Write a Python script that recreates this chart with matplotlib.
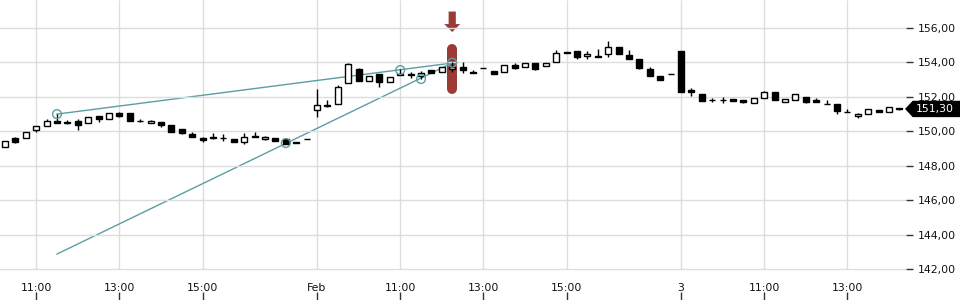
import numpy as np
import matplotlib
matplotlib.use("Agg")
import matplotlib.pyplot as plt
from matplotlib.patches import Polygon

# 15-minute candles, three sessions (9:00-17:30 = 35 slots per day)
first_slot = 5
opens = [149.07, 149.60, 149.59, 150.06, 150.29, 150.58, 150.57, 150.60, 150.47, 150.89,
         150.72, 151.06, 151.05, 150.60, 150.47, 150.52, 150.37, 150.12, 149.83, 149.61,
         149.68, 149.60, 149.53, 149.38, 149.73, 149.53, 149.59, 149.53, 149.40, 149.53,
         151.24, 151.55, 151.59, 152.79, 153.60, 152.90, 153.31, 152.85, 153.33, 153.33,
         153.21, 153.56, 153.43, 153.60, 153.74, 153.45, 153.66, 153.52, 153.45, 153.87,
         153.72, 153.95, 153.79, 154.03, 154.63, 154.68, 154.38, 154.38, 154.49, 154.88,
         154.45, 154.18, 153.62, 153.19, 153.35,
         154.67, 152.38, 152.17, 151.80, 151.82, 151.86, 151.82, 151.67, 151.92, 152.28,
         151.70, 151.82, 151.98, 151.82, 151.57, 151.57, 151.11, 150.89, 151.01, 151.24,
         151.12, 151.33]
highs = [149.45, 149.69, 149.98, 150.29, 150.70, 151.00, 150.65, 150.70, 150.81, 150.89,
         151.08, 151.12, 151.05, 150.73, 150.66, 150.52, 150.37, 150.12, 149.95, 149.67,
         149.88, 149.85, 149.53, 149.88, 149.94, 149.73, 149.59, 149.53, 149.40, 149.53,
         152.44, 151.82, 152.69, 153.99, 153.68, 153.19, 153.31, 153.17, 153.60, 153.47,
         153.50, 153.56, 153.72, 154.05, 154.00, 153.55, 153.66, 153.52, 153.83, 153.95,
         153.95, 153.95, 153.95, 154.72, 154.63, 154.68, 154.66, 154.78, 155.22, 154.88,
         154.72, 154.18, 153.74, 153.19, 153.35,
         154.67, 152.53, 152.17, 151.91, 152.01, 151.86, 151.82, 151.94, 152.36, 152.28,
         151.86, 152.17, 151.98, 151.92, 151.82, 151.57, 151.32, 151.06, 151.28, 151.24,
         151.40, 151.33]
lows = [149.07, 149.30, 149.59, 149.94, 150.29, 150.50, 150.44, 150.06, 150.47, 150.52,
        150.72, 150.81, 150.62, 150.54, 150.47, 150.25, 149.98, 149.83, 149.65, 149.37,
        149.57, 149.45, 149.36, 149.27, 149.65, 149.50, 149.45, 149.24, 149.30, 149.53,
        150.81, 151.43, 151.59, 152.79, 152.90, 152.90, 152.60, 152.85, 153.26, 153.12,
        153.04, 153.37, 153.43, 153.43, 153.40, 153.37, 153.66, 153.33, 153.45, 153.62,
        153.72, 153.54, 153.79, 154.03, 154.53, 154.20, 154.21, 154.30, 154.34, 154.47,
        154.22, 153.60, 153.23, 153.00, 153.35,
        152.30, 152.07, 151.74, 151.68, 151.63, 151.74, 151.66, 151.67, 151.92, 151.80,
        151.70, 151.82, 151.63, 151.70, 151.57, 150.99, 151.11, 150.75, 151.01, 151.12,
        151.12, 151.24]
closes = [149.45, 149.40, 149.98, 150.29, 150.62, 150.50, 150.50, 150.39, 150.81, 150.72,
          151.08, 150.91, 150.62, 150.60, 150.60, 150.35, 149.98, 149.88, 149.65, 149.51,
          149.59, 149.59, 149.36, 149.65, 149.65, 149.65, 149.45, 149.24, 149.30, 149.53,
          151.51, 151.45, 152.55, 153.89, 152.90, 153.19, 152.88, 153.17, 153.26, 153.28,
          153.39, 153.37, 153.72, 153.72, 153.59, 153.37, 153.66, 153.33, 153.83, 153.70,
          153.95, 153.65, 153.95, 154.53, 154.53, 154.30, 154.49, 154.30, 154.88, 154.47,
          154.22, 153.70, 153.23, 153.00, 153.35,
          152.30, 152.30, 151.74, 151.80, 151.82, 151.74, 151.69, 151.94, 152.28, 151.80,
          151.86, 152.17, 151.70, 151.70, 151.57, 151.20, 151.11, 151.01, 151.28, 151.12,
          151.40, 151.30]

tick_slots = [8, 16, 24, 35, 43, 51, 59, 70, 78, 86]
tick_labels = ["11:00", "13:00", "15:00", "Feb", "11:00", "13:00", "15:00", "3", "11:00", "13:00"]
price_ticks = [142, 144, 146, 148, 150, 152, 154, 156]

# two trend lines sharing an end point, plus anchor circles
line_slots = [[10, 48], [10, 48]]
line_prices = [[151.00, 153.97], [142.87, 153.97]]
anchor_slots = [10, 43, 48, 32, 45]
anchor_prices = [151.00, 153.56, 153.99, 149.32, 153.04]

marker_slot = 48
marker_range = [152.46, 154.78]
last_price = 151.30

teal = "#5b9ea2"
red = "#9c3b35"
fs = 7.8

o = np.array(opens)
h = np.array(highs)
l = np.array(lows)
c = np.array(closes)
x = np.arange(first_slot, first_slot + len(o))
up = c >= o

fig = plt.figure(figsize=(9.6, 3.0), dpi=100)
ax = fig.add_axes([0, 0, 906 / 960, 1])
ax.set_xlim(4.52, 91.63)
ax.set_ylim(140.2, 157.63)
for s in ax.spines.values():
    s.set_visible(False)

ax.set_yticks(price_ticks)
ax.set_yticklabels([f"{p:.2f}".replace(".", ",") for p in price_ticks])
ax.yaxis.tick_right()
ax.tick_params(axis="y", length=5, width=1, color="#333333", pad=3.5, labelsize=fs, labelcolor="#111111")
ax.grid(axis="y", color="#dddddd", lw=1, zorder=0)
ax.vlines(tick_slots, 142, 157.63, color="#dddddd", lw=1, zorder=0)

ax.set_xticks(tick_slots)
ax.set_xticklabels(tick_labels)
ax.tick_params(axis="x", direction="in", length=6, width=1, color="#333333", pad=-12.5,
               labelsize=fs, labelcolor="#111111")

# highlighted candle
ax.plot([marker_slot, marker_slot], marker_range, color=red, lw=7.2, solid_capstyle="round", zorder=1)
px = 1 / 10.4
py = 1 / 17.214
tip = marker_range[1] + 5 * py + 12 * py
arrow = Polygon([(marker_slot - 3.6 * px, tip + 20.5 * py), (marker_slot + 3.6 * px, tip + 20.5 * py),
                 (marker_slot + 3.6 * px, tip + 8 * py), (marker_slot + 8 * px, tip + 8 * py),
                 (marker_slot, tip), (marker_slot - 8 * px, tip + 8 * py),
                 (marker_slot - 3.6 * px, tip + 8 * py)], closed=True, color=red, lw=0, zorder=1)
ax.add_patch(arrow)

for xs, ys in zip(line_slots, line_prices):
    ax.plot(xs, ys, color=teal, lw=1, zorder=1.5)

ax.vlines(x, l, h, color="black", lw=1, zorder=2)
ax.bar(x[up], (c - o)[up], bottom=o[up], width=0.58, facecolor="white", edgecolor="black", lw=1, zorder=3)
ax.bar(x[~up], (o - c)[~up], bottom=c[~up], width=0.58, facecolor="black", edgecolor="black", lw=1, zorder=3)

ax.scatter(anchor_slots, anchor_prices, s=40, facecolors="none", edgecolors=teal, linewidths=1, zorder=4)

# last price tag on the axis
tr = ax.get_yaxis_transform()
hh = 7.5 * py
tag = Polygon([(1.0, last_price), (1.0 + 7 / 906, last_price + hh), (1.1, last_price + hh),
               (1.1, last_price - hh), (1.0 + 7 / 906, last_price - hh)], closed=True,
              transform=tr, color="black", clip_on=False, zorder=5)
ax.add_patch(tag)
ax.text(1.0 + 29 / 906, last_price, f"{last_price:.2f}".replace(".", ","), transform=tr,
        color="white", fontsize=fs, ha="center", va="center", zorder=6, clip_on=False)

fig.savefig("out.png", dpi=100)
